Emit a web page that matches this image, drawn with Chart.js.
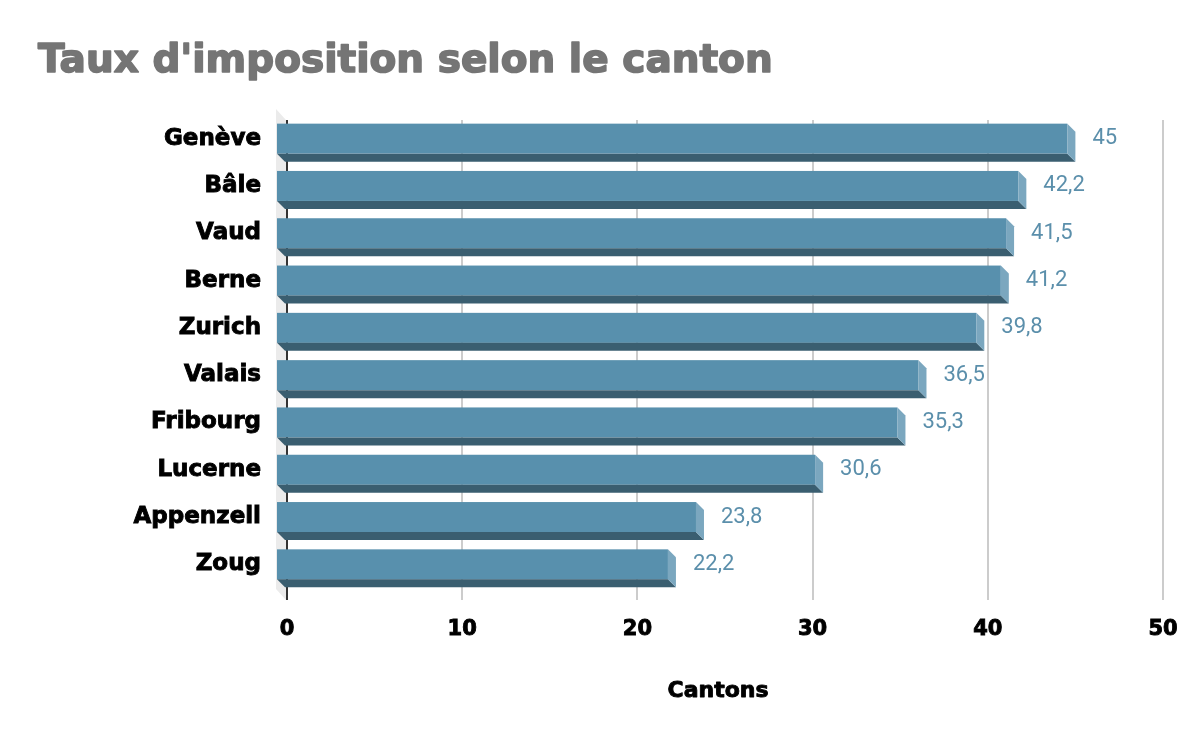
<!DOCTYPE html>
<html>
<head>
<meta charset="utf-8">
<script src="https://cdn.jsdelivr.net/npm/chart.js@4"></script>
<style>
  html, body { margin: 0; padding: 0; background: #fff; }
</style>
</head>
<body>
<canvas id="chartContainer" width="1200" height="742"></canvas>
<script>
// Data
const cantons = ['Genève', 'Bâle', 'Vaud', 'Berne', 'Zurich', 'Valais', 'Fribourg', 'Lucerne', 'Appenzell', 'Zoug'];
const taux = [45, 42.2, 41.5, 41.2, 39.8, 36.5, 35.3, 30.6, 23.8, 22.2];
const xTicks = [0, 10, 20, 30, 40, 50];
const titre = "Taux d'imposition selon le canton";
const titreAxe = 'Cantons';

const DEPTH = 8;

// Grey wall on the left + 3D boxes (front, bottom, side faces)
const bars3d = {
    id: 'bars3d',
    beforeDatasetsDraw(chart) {
        const ctx = chart.ctx;
        const area = chart.chartArea;
        const x0 = chart.scales.x.getPixelForValue(0);
        const L = x0 - 11;
        ctx.save();
        ctx.fillStyle = '#ebebeb';
        ctx.beginPath();
        ctx.moveTo(L, area.top - 11);
        ctx.lineTo(x0 - 1, area.top);
        ctx.lineTo(x0 - 1, area.bottom + 7);
        ctx.lineTo(L, area.bottom - 4);
        ctx.closePath();
        ctx.fill();
        ctx.restore();
    },
    afterDatasetsDraw(chart) {
        const ctx = chart.ctx;
        const meta = chart.getDatasetMeta(0);
        ctx.save();
        meta.data.forEach((el, i) => {
            const L = el.base - 11;
            const R = el.x - DEPTH;
            const T = el.y - 20;
            const B = el.y + 10;
            // front
            ctx.fillStyle = '#5890ad';
            ctx.fillRect(L, T, R - L, B - T);
            // bottom
            ctx.fillStyle = '#3a5e70';
            ctx.beginPath();
            ctx.moveTo(L, B);
            ctx.lineTo(R, B);
            ctx.lineTo(R + DEPTH, B + DEPTH);
            ctx.lineTo(L + DEPTH, B + DEPTH);
            ctx.closePath();
            ctx.fill();
            // side
            ctx.fillStyle = '#7ba7bf';
            ctx.beginPath();
            ctx.moveTo(R, T);
            ctx.lineTo(R + DEPTH, T + DEPTH);
            ctx.lineTo(R + DEPTH, B + DEPTH);
            ctx.lineTo(R, B);
            ctx.closePath();
            ctx.fill();
            // value label
            ctx.fillStyle = '#5b8fab';
            ctx.font = '22px Roboto';
            ctx.textAlign = 'left';
            ctx.textBaseline = 'middle';
            ctx.fillText(String(taux[i]).replace('.', ','), el.x + 17, el.y - 5);
        });
        ctx.restore();
    },
    afterDraw(chart) {
        // heavy title and axis title (stroke gives the black-weight look)
        const ctx = chart.ctx;
        ctx.save();
        ctx.textAlign = 'left';
        ctx.textBaseline = 'middle';
        ctx.lineJoin = 'round';
        ctx.font = 'bold 39px "DejaVu Sans"';
        ctx.fillStyle = '#757575';
        ctx.strokeStyle = '#757575';
        ctx.lineWidth = 1.6;
        ctx.fillText(titre, 38, 62);
        ctx.strokeText(titre, 38, 62);

        ctx.textAlign = 'center';
        ctx.font = 'bold 22px "DejaVu Sans"';
        ctx.fillStyle = '#000';
        ctx.strokeStyle = '#000';
        ctx.lineWidth = 0.9;
        ctx.fillText(titreAxe, 718, 691);
        ctx.strokeText(titreAxe, 718, 691);
        ctx.restore();
    }
};

const ctx = document.getElementById('chartContainer').getContext('2d');
const chart = new Chart(ctx, {
    type: 'bar',
    data: {
        labels: cantons,
        datasets: [{
            data: taux,
            backgroundColor: 'rgba(0,0,0,0)',
            barThickness: 38
        }]
    },
    options: {
        indexAxis: 'y',
        responsive: false,
        animation: false,
        layout: { padding: { left: 38, right: 37, top: 120, bottom: 0 } },
        plugins: {
            legend: { display: false },
            tooltip: { enabled: false },
            title: { display: false }
        },
        scales: {
            x: {
                min: 0,
                max: 50,
                afterBuildTicks: (scale) => { scale.ticks = xTicks.map(v => ({ value: v })); },
                afterFit: (scale) => { scale.height = 149; },
                grid: {
                    color: (c) => (c.tick && c.tick.value === 0) ? '#333333' : '#cccccc',
                    lineWidth: 2,
                    tickLength: 7
                },
                border: { display: false },
                ticks: {
                    color: '#000',
                    padding: 17,
                    textStrokeColor: '#000',
                    textStrokeWidth: 0.9,
                    font: { family: 'DejaVu Sans', size: 21, weight: 'bold' }
                }
            },
            y: {
                afterFit: (scale) => { scale.width = 249; },
                grid: { display: false, drawTicks: false },
                border: { display: false },
                ticks: {
                    color: '#000',
                    padding: 26,
                    labelOffset: -5,
                    textStrokeColor: '#000',
                    textStrokeWidth: 0.9,
                    font: { family: 'DejaVu Sans', size: 23, weight: 'bold' }
                }
            }
        }
    },
    plugins: [bars3d]
});
</script>
</body>
</html>
